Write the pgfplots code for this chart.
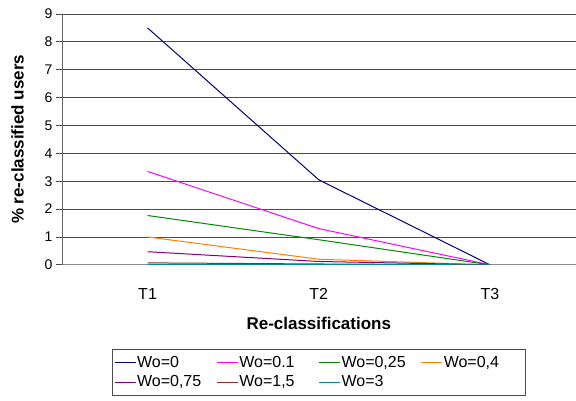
\documentclass[border=0pt]{standalone}
\usepackage{pgfplots}
\pgfplotsset{compat=1.18}
\usepackage{fontspec}
\setmainfont{Liberation Sans}
\definecolor{c0}{RGB}{0,0,128}
\definecolor{c1}{RGB}{255,0,255}
\definecolor{c2}{RGB}{0,140,0}
\definecolor{c3}{RGB}{255,128,0}
\definecolor{c4}{RGB}{128,0,128}
\definecolor{c5}{RGB}{150,40,40}
\definecolor{c6}{RGB}{0,140,140}
\begin{document}
\begin{tikzpicture}[x=1pt,y=1pt]
\begin{axis}[
  scale only axis,
  width=514pt, height=251pt,
  xmin=0.5, xmax=3.5, ymin=0, ymax=9,
  xtick={1,2,3}, xticklabels={T1,T2,T3},
  ytick={0,1,...,9},
  axis x line*=bottom, axis y line*=left,
  axis line style={black!60, line width=0.8pt},
  x axis line style={-, black!45},
  y axis line style={-},
  every outer x axis line/.append style={-},
  every outer y axis line/.append style={-},
  major tick length=6pt,
  xtick style={draw=none},
  ytick style={black!70, line width=0.8pt},
  tick align=outside,
  ymajorgrids,
  major grid style={black!70, line width=0.8pt},
  yticklabel style={font=\fontsize{14}{16}\selectfont},
  xticklabel style={font=\fontsize{16}{18}\selectfont, yshift=-14pt},
  /pgf/number format/assume math mode=true,
  xlabel={\textbf{Re-classifications}},
  ylabel={\textbf{\% re-classified users}},
  label style={font=\fontsize{17}{19}\selectfont},
  xlabel style={at={(axis description cs:0.5,0)}, anchor=center, yshift=-59pt},
  ylabel style={at={(axis description cs:0,0.5)}, anchor=center, rotate=0, yshift=44.5pt},
  legend columns=4,
  legend cell align=left,
  legend style={at={(0.5,-0.3347)}, anchor=north, draw=black!70, line width=0.8pt,
    font=\fontsize{16}{18}\selectfont, inner xsep=2pt, inner ysep=5pt,
    row sep=3pt,
    nodes={text width=78.5pt, align=left, inner xsep=1pt},
    /tikz/every even column/.append style={column sep=0pt}},
  legend image code/.code={\draw[line width=0.8pt, #1] (0pt,0pt) -- (21pt,0pt);},
  every axis plot/.append style={line width=1pt},
]
\addplot[c0] coordinates {(1,8.5) (2,3.05) (3,0)};
\addlegendentry{Wo=0}
\addplot[c1] coordinates {(1,3.35) (2,1.3) (3,0)};
\addlegendentry{Wo=0.1}
\addplot[c2] coordinates {(1,1.77) (2,0.9) (3,0)};
\addlegendentry{Wo=0,25}
\addplot[c3] coordinates {(1,1.0) (2,0.2) (3,0)};
\addlegendentry{Wo=0,4}
\addplot[c4] coordinates {(1,0.47) (2,0.12) (3,0)};
\addlegendentry{Wo=0,75}
\addplot[c5] coordinates {(1,0.07) (2,0.03) (3,0)};
\addlegendentry{Wo=1,5}
\addplot[c6] coordinates {(1,0.02) (2,0.01) (3,0)};
\addlegendentry{Wo=3}
\end{axis}
\path (current axis.south west) ++(-62pt,-136pt) rectangle ++(576pt,401pt);
\end{tikzpicture}
\end{document}
